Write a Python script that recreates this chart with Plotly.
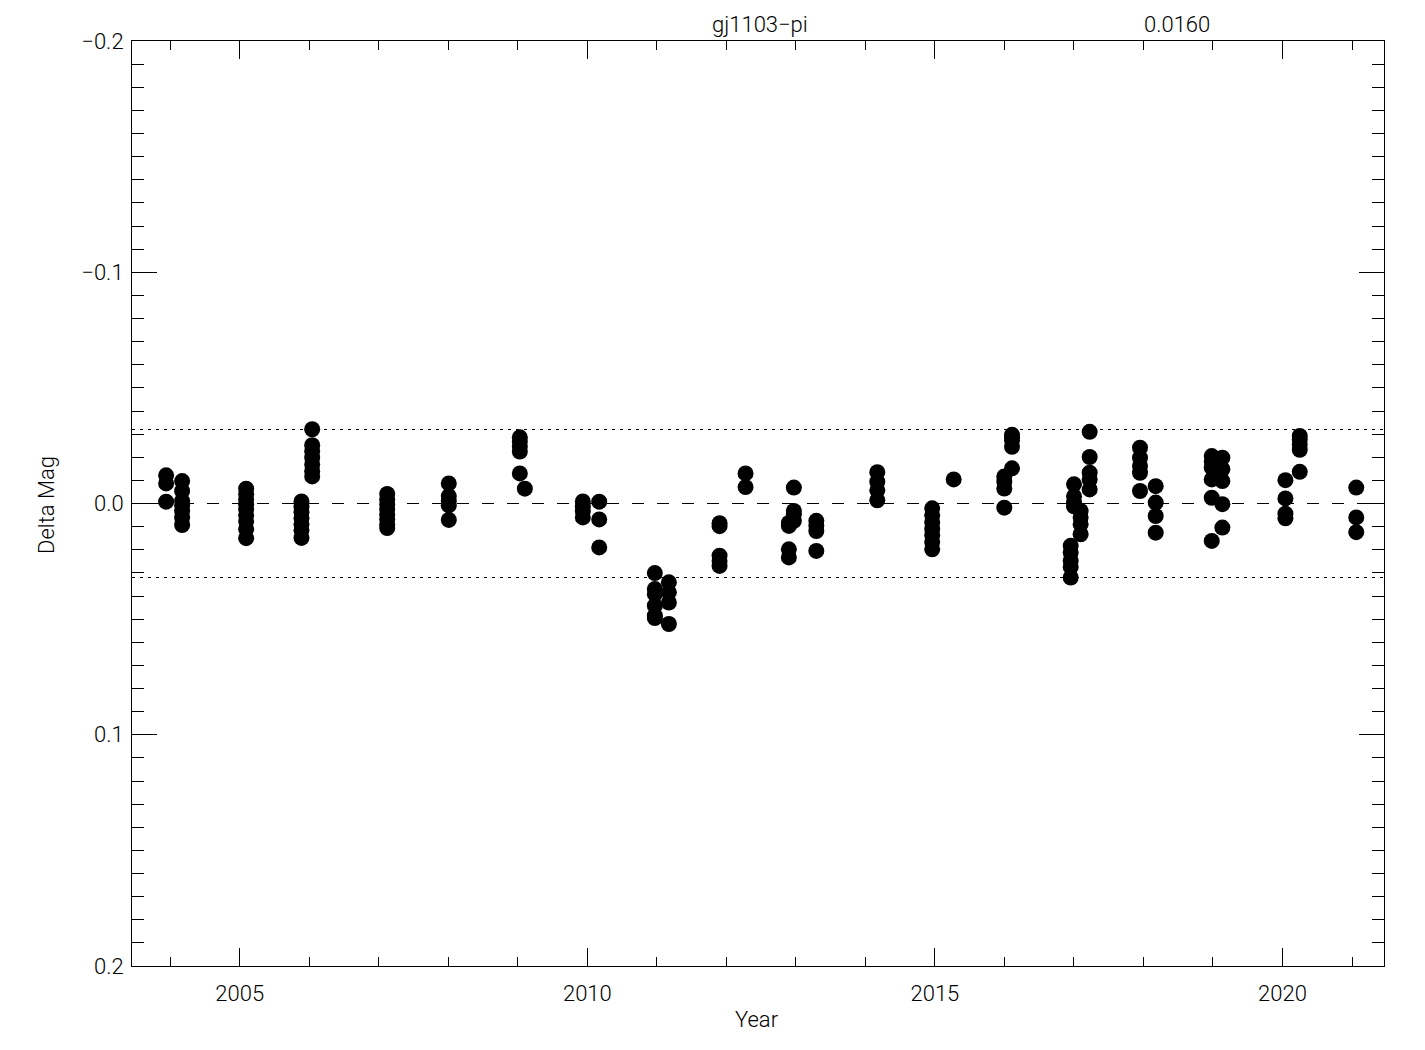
import plotly.graph_objects as go

# ---- data ----
star_name = "gj1103\u2212pi"
rms_text = "0.0160"
rms = 0.0160

epoch_2003_9 = [2003.941] * 3
mag_2003_9 = [-0.0122, -0.0087, -0.0008]
epoch_2004_2 = [2004.171] * 7
mag_2004_2 = [-0.0097, -0.0054, -0.0011, 0.0008, 0.0032, 0.0061, 0.0093]
epoch_2005_1 = [2005.092] * 9
mag_2005_1 = [-0.0064, -0.0040, -0.0018, 0.0003, 0.0025, 0.0051, 0.0077, 0.0111, 0.0150]
epoch_2005_9 = [2005.888] * 7
mag_2005_9 = [-0.0009, 0.0012, 0.0038, 0.0064, 0.0090, 0.0116, 0.0149]
epoch_2006_0 = [2006.042] * 7
mag_2006_0 = [-0.0321, -0.0252, -0.0226, -0.0198, -0.0169, -0.0140, -0.0117]
epoch_2007_1 = [2007.121] * 8
mag_2007_1 = [-0.0041, -0.0018, 0.0003, 0.0025, 0.0047, 0.0068, 0.0090, 0.0106]
epoch_2008_0 = [2008.007] * 5
mag_2008_0 = [-0.0087, -0.0032, -0.0011, 0.0008, 0.0071]
epoch_2009_0 = [2009.029] * 5 + [2009.101]
mag_2009_0 = [-0.0286, -0.0268, -0.0247, -0.0225, -0.0130, -0.0064]
epoch_2009_9 = [2009.935] * 4
mag_2009_9 = [-0.0009, 0.0012, 0.0034, 0.0060]
epoch_2010_2 = [2010.171] * 3
mag_2010_2 = [-0.0008, 0.0069, 0.0190]
epoch_2011_0 = [2010.971] * 6
mag_2011_0 = [0.0301, 0.0370, 0.0392, 0.0442, 0.0485, 0.0495]
epoch_2011_2 = [2011.173] * 4
mag_2011_2 = [0.0341, 0.0384, 0.0428, 0.0521]
epoch_2011_9 = [2011.902] * 5
mag_2011_9 = [0.0085, 0.0098, 0.0226, 0.0249, 0.0270]
epoch_2012_3 = [2012.276] * 2
mag_2012_3 = [-0.0130, -0.0071]
epoch_2012_9 = [2012.899] * 4
mag_2012_9 = [0.0084, 0.0097, 0.0198, 0.0233]
epoch_2013_0 = [2012.971] * 4
mag_2013_0 = [-0.0069, 0.0032, 0.0047, 0.0075]
epoch_2013_3 = [2013.294] * 4
mag_2013_3 = [0.0075, 0.0095, 0.0119, 0.0205]
epoch_2014_2 = [2014.171] * 4
mag_2014_2 = [-0.0135, -0.0094, -0.0057, -0.0014]
epoch_2015_0 = [2014.961] * 7 + [2015.270]
mag_2015_0 = [0.0021, 0.0051, 0.0081, 0.0110, 0.0137, 0.0167, 0.0198, -0.0104]
epoch_2016_0 = [2015.998] * 4
mag_2016_0 = [-0.0117, -0.0094, -0.0065, 0.0018]
epoch_2016_1 = [2016.109] * 5
mag_2016_1 = [-0.0297, -0.0286, -0.0273, -0.0245, -0.0152]
epoch_2017_0 = [2016.953] * 5 + [2017.001] * 4
mag_2017_0 = [0.0183, 0.0212, 0.0248, 0.0275, 0.0320, -0.0083, -0.0031, -0.0004, 0.0012]
epoch_2017_1 = [2017.096] * 4
mag_2017_1 = [0.0032, 0.0060, 0.0090, 0.0133]
epoch_2017_2 = [2017.226] * 5
mag_2017_2 = [-0.0310, -0.0201, -0.0133, -0.0104, -0.0061]
epoch_2018_0 = [2017.950] * 5
mag_2018_0 = [-0.0241, -0.0198, -0.0162, -0.0133, -0.0054]
epoch_2018_2 = [2018.176] * 4
mag_2018_2 = [-0.0075, -0.0004, 0.0054, 0.0126]
epoch_2019_0 = [2018.982] * 6
mag_2019_0 = [-0.0205, -0.0182, -0.0155, -0.0104, -0.0025, 0.0162]
epoch_2019_1 = [2019.135] * 5
mag_2019_1 = [-0.0198, -0.0148, -0.0097, 0.0003, 0.0104]
epoch_2020_0 = [2020.042] * 4
mag_2020_0 = [-0.0101, -0.0022, 0.0044, 0.0064]
epoch_2020_2 = [2020.248] * 5
mag_2020_2 = [-0.0292, -0.0277, -0.0255, -0.0232, -0.0137]
epoch_2021_1 = [2021.061] * 3
mag_2021_1 = [-0.0069, 0.0060, 0.0124]

years = (epoch_2003_9 + epoch_2004_2 + epoch_2005_1 + epoch_2005_9 + epoch_2006_0
         + epoch_2007_1 + epoch_2008_0 + epoch_2009_0 + epoch_2009_9 + epoch_2010_2
         + epoch_2011_0 + epoch_2011_2 + epoch_2011_9 + epoch_2012_3 + epoch_2012_9
         + epoch_2013_0 + epoch_2013_3 + epoch_2014_2 + epoch_2015_0 + epoch_2016_0
         + epoch_2016_1 + epoch_2017_0 + epoch_2017_1 + epoch_2017_2 + epoch_2018_0
         + epoch_2018_2 + epoch_2019_0 + epoch_2019_1 + epoch_2020_0 + epoch_2020_2
         + epoch_2021_1)
delta_mag = (mag_2003_9 + mag_2004_2 + mag_2005_1 + mag_2005_9 + mag_2006_0
             + mag_2007_1 + mag_2008_0 + mag_2009_0 + mag_2009_9 + mag_2010_2
             + mag_2011_0 + mag_2011_2 + mag_2011_9 + mag_2012_3 + mag_2012_9
             + mag_2013_0 + mag_2013_3 + mag_2014_2 + mag_2015_0 + mag_2016_0
             + mag_2016_1 + mag_2017_0 + mag_2017_1 + mag_2017_2 + mag_2018_0
             + mag_2018_2 + mag_2019_0 + mag_2019_1 + mag_2020_0 + mag_2020_2
             + mag_2021_1)

x_tickvals = [2005, 2010, 2015, 2020]
x_ticktext = ["2005", "2010", "2015", "2020"]
y_tickvals = [-0.2, -0.1, 0.0, 0.1, 0.2]
y_ticktext = ["\u22120.2", "\u22120.1", "0.0", "0.1", "0.2"]
x_range = [2003.45, 2021.46]
y_range = [0.2, -0.2]

FONT = dict(family="Roboto", size=22, color="black", weight=300)

fig = go.Figure()
fig.add_trace(go.Scatter(
    x=years, y=delta_mag, mode="markers",
    marker=dict(size=16, color="black", line=dict(width=0)),
    showlegend=False, hoverinfo="skip",
))

# reference lines: zero (dashed) and +/- 2*rms (dotted)
fig.add_shape(type="line", xref="paper", x0=0, x1=1, yref="y", y0=0, y1=0,
              line=dict(color="black", width=1, dash="12px,13px"), layer="below")
for s in (-2 * rms, 2 * rms):
    fig.add_shape(type="line", xref="paper", x0=0, x1=1, yref="y", y0=s, y1=s,
                  line=dict(color="black", width=1, dash="3px,5px"), layer="below")

fig.update_layout(
    width=1417, height=1042,
    margin=dict(l=124, r=41, t=33, b=84),
    paper_bgcolor="white", plot_bgcolor="white",
    font=FONT,
    xaxis=dict(range=x_range, showgrid=False, zeroline=False,
               showline=True, linecolor="black", linewidth=1, mirror="ticks",
               ticks="inside", ticklen=18, tickcolor="black", tickwidth=1,
               tickvals=x_tickvals, ticktext=x_ticktext, ticklabelstandoff=8,
               minor=dict(ticks="inside", ticklen=9, dtick=1, tick0=2005,
                          tickcolor="black", tickwidth=1, showgrid=False)),
    yaxis=dict(range=y_range, showgrid=False, zeroline=False,
               showline=True, linecolor="black", linewidth=1, mirror="ticks",
               ticks="inside", ticklen=25, tickcolor="black", tickwidth=1,
               tickvals=y_tickvals, ticktext=y_ticktext, ticklabelstandoff=3,
               minor=dict(ticks="inside", ticklen=12, dtick=0.01, tick0=0,
                          tickcolor="black", tickwidth=1, showgrid=False)),
)

fig.add_annotation(text=star_name, xref="paper", yref="paper", x=0.5016, y=1.0173,
                   showarrow=False, xanchor="center", yanchor="middle", font=FONT)
fig.add_annotation(text=rms_text, xref="paper", yref="paper", x=0.8347, y=1.0173,
                   showarrow=False, xanchor="center", yanchor="middle", font=FONT)
fig.add_annotation(text="Year", xref="paper", yref="paper", x=0.499, y=-0.0573,
                   showarrow=False, xanchor="center", yanchor="middle", font=FONT)
fig.add_annotation(text="Delta Mag", xref="paper", yref="paper", x=-0.0679, y=0.4984,
                   showarrow=False, xanchor="center", yanchor="middle", textangle=-90,
                   font=FONT)

fig.write_html("out.html")
